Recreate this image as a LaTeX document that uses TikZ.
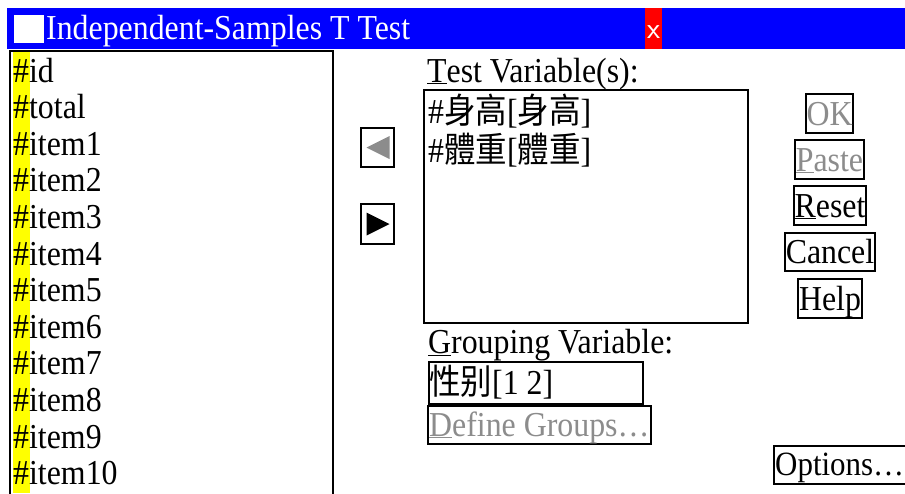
\documentclass[tikz,border=0pt]{standalone}
\usepackage{fontspec}
\setmainfont{Liberation Serif}[FakeStretch=0.91]
\newfontfamily\cjk{Noto Sans CJK TC}[FakeStretch=0.9]
\definecolor{titleblue}{RGB}{0,0,255}
\definecolor{closered}{RGB}{255,0,0}
\definecolor{dimtext}{RGB}{140,140,140}
\definecolor{hilite}{RGB}{255,255,0}

\begin{document}
\begin{tikzpicture}[x=1pt,y=-1pt,
  every node/.style={font=\fontsize{35}{36.6}\selectfont, inner sep=0pt},
  lbl/.style={anchor=base west},
  frame/.style={draw=black, line width=2.2pt},
  btn/.style={frame, text height=23pt, text depth=0pt, minimum height=39pt},
  boxframe/.style={frame, anchor=north west},
]
\clip (0,0) rectangle (905,493);
\fill[white] (0,0) rectangle (905,493);

% title bar
\fill[titleblue] (7,8) rectangle (905,49);
\fill[white] (14,15) rectangle (44,43);
\node[lbl, text=white] (title) at (46,39) {Independent-Samples T Test};
\fill[closered] (645,8) rectangle (662,49);
\node[anchor=base, text=white, font=\fontsize{30}{30}\sffamily] (close) at (653.5,38) {x};

% source variable list
\fill[hilite] (13,52) rectangle (30,493);
\draw[line width=2.2pt] (10,500) -- (10,51) -- (333,51) -- (333,500);
\foreach \vname [count=\i from 0] in {id,total,item1,item2,item3,item4,item5,item6,item7,item8,item9,item10}
  \node[lbl] (v\i) at (13,82+36.6*\i) {\#\vname};

% move buttons
\node[frame, minimum width=33pt, minimum height=39pt] (movel) at (377.5,147.5) {};
\fill[dimtext, shift={(movel.center)}] (-11,0) -- (12,-11.5) -- (12,11.5) -- cycle;
\node[frame, minimum width=33pt, minimum height=40pt] (mover) at (377.5,224) {};
\fill[black, shift={(mover.center)}] (-11,-11.5) -- (-11,11.5) -- (12,0) -- cycle;

% test variables
\node[lbl] (testlbl) at (427,82) {\underline{T}est Variable(s):};
\node[boxframe, minimum width=324pt, minimum height=233pt] (testbox) at (423,89) {};
\node[lbl] (t1) at (428,123) {\#{\cjk 身高}[{\cjk 身高}]};
\node[lbl] (t2) at (428,162) {\#{\cjk 體重}[{\cjk 體重}]};

% grouping variable
\node[lbl] (grplbl) at (428,353) {\underline{G}rouping Variable:};
\node[boxframe, minimum width=214pt, minimum height=42pt] (grpbox) at (428,361) {};
\node[lbl] (grpval) at (429,394) {{\cjk 性别}[1 2]};
\node[boxframe, minimum width=223pt, minimum height=38pt] (defbox) at (427,405) {};
\node[lbl, text=dimtext] (deftxt) at (429,436) {\underline{D}efine Groups…};

% command buttons
\node[btn, minimum width=47pt, text=dimtext] (ok) at (829.5,113.5) {OK};
\node[btn, minimum width=69pt, text=dimtext] (paste) at (829.5,159.5) {\underline{P}aste};
\node[btn, minimum width=72pt] (reset) at (830,205.5) {\underline{R}eset};
\node[btn, minimum width=90pt, minimum height=38pt] (cancel) at (830,252) {Cancel};
\node[btn, minimum width=64pt] (help) at (830,298.5) {Help};
\node[boxframe, minimum width=140pt, minimum height=38pt] (optbox) at (773,445) {};
\node[lbl, font=\fontsize{34}{36}\selectfont] (opttxt) at (775,475) {Options…};
\end{tikzpicture}
\end{document}
